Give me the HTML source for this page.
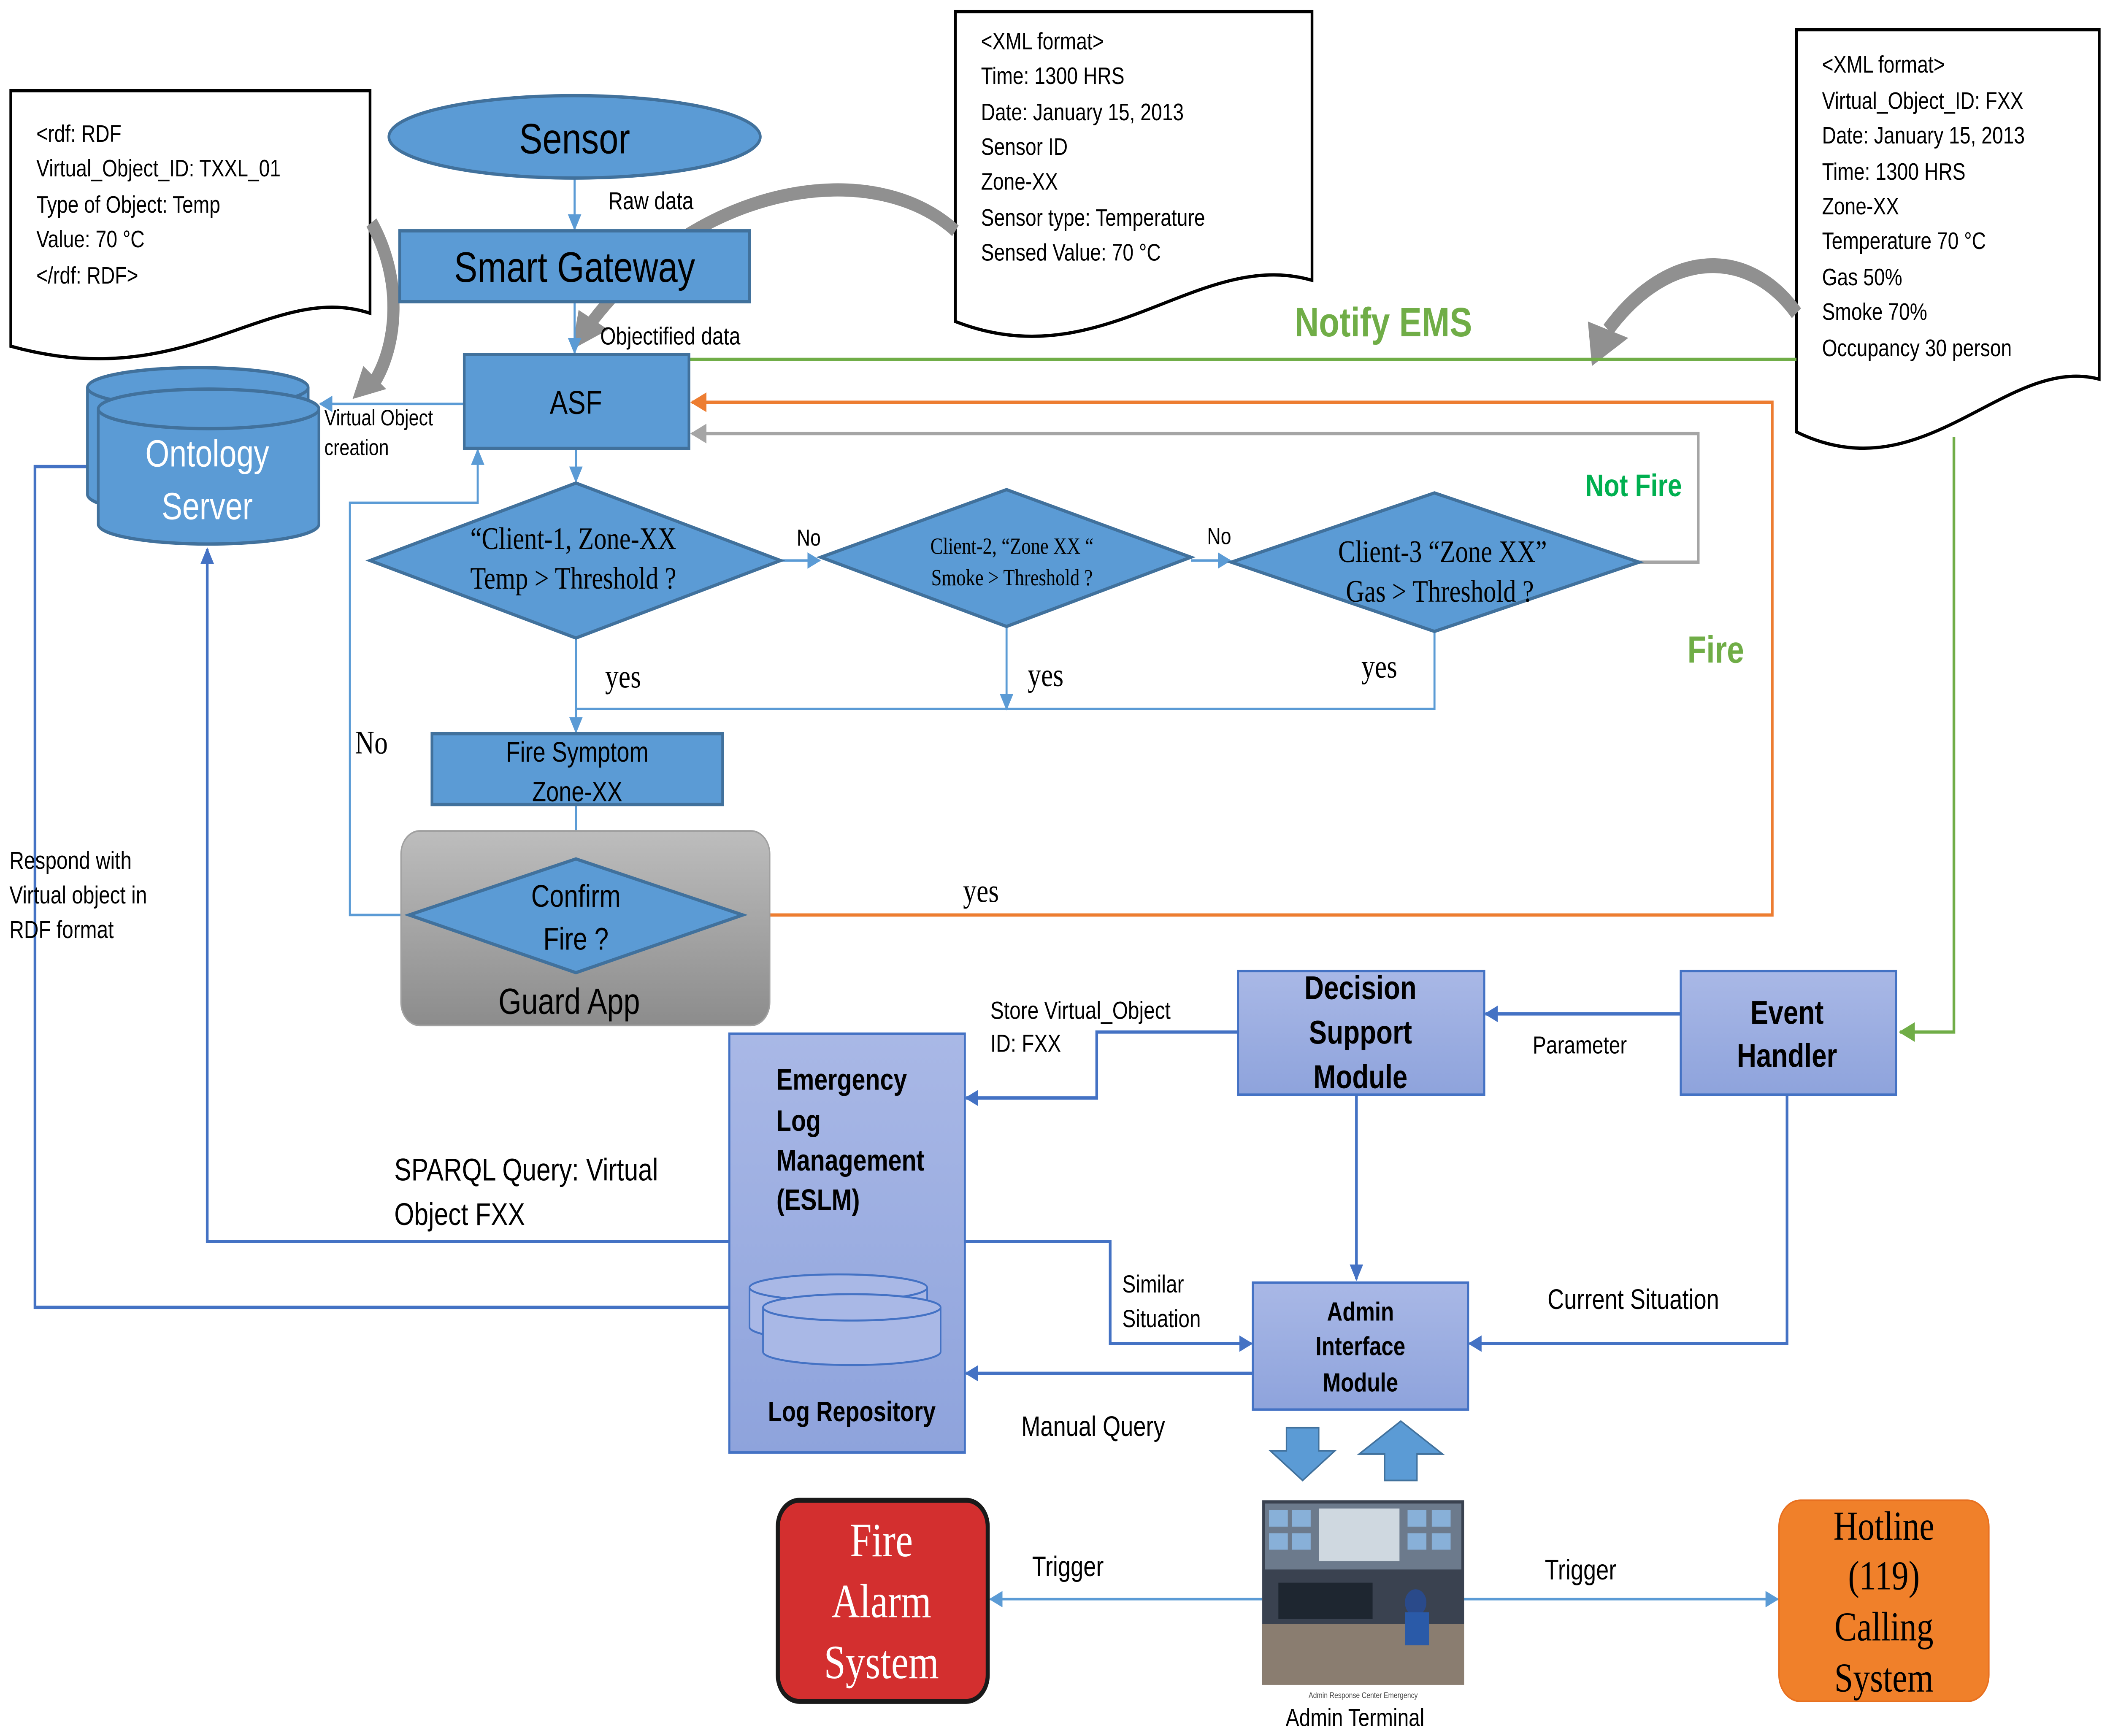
<!DOCTYPE html>
<html><head><meta charset="utf-8"><style>html,body{margin:0;padding:0;background:#fff;width:100%;height:100%;overflow:hidden}svg{display:block;position:fixed;left:0;top:0;width:100vw;height:100vh}</style></head>
<body>
<svg xmlns="http://www.w3.org/2000/svg" viewBox="0 0 1568 1053" preserveAspectRatio="none" font-family="Liberation Sans, sans-serif">
<defs>
<marker id="ab" markerWidth="10" markerHeight="10" refX="9" refY="5" orient="auto" markerUnits="userSpaceOnUse"><path d="M0,0 L10,5 L0,10 z" fill="#4472c4"/></marker>
<marker id="alb" markerWidth="10" markerHeight="10" refX="9" refY="5" orient="auto" markerUnits="userSpaceOnUse"><path d="M0,0 L10,5 L0,10 z" fill="#5b9bd5"/></marker>
<marker id="ao" markerWidth="12" markerHeight="12" refX="11" refY="6" orient="auto" markerUnits="userSpaceOnUse"><path d="M0,0 L12,6 L0,12 z" fill="#ed7d31"/></marker>
<marker id="ag" markerWidth="12" markerHeight="12" refX="11" refY="6" orient="auto" markerUnits="userSpaceOnUse"><path d="M0,0 L12,6 L0,12 z" fill="#a5a5a5"/></marker>
<marker id="agr" markerWidth="12" markerHeight="12" refX="11" refY="6" orient="auto" markerUnits="userSpaceOnUse"><path d="M0,0 L12,6 L0,12 z" fill="#70ad47"/></marker>
<linearGradient id="gg" x1="0" y1="0" x2="0" y2="1"><stop offset="0" stop-color="#bdbdbd"/><stop offset="1" stop-color="#8c8c8c"/></linearGradient>
<linearGradient id="pg" x1="0" y1="0" x2="0" y2="1"><stop offset="0" stop-color="#a9b8e6"/><stop offset="1" stop-color="#8ea3dc"/></linearGradient>
</defs>

<path d="M8,55 H275 V190 C200,170 140,240 8,210 Z" fill="#fff" stroke="#000" stroke-width="2"/>
<g font-size="14.5" fill="#000"><text x="27" y="86">&lt;rdf: RDF</text><text x="27" y="107">Virtual_Object_ID: TXXL_01</text><text x="27" y="129">Type of Object: Temp</text><text x="27" y="150">Value: 70 °C</text><text x="27" y="172">&lt;/rdf: RDF&gt;</text></g>

<path d="M710,7 H975 V170 C890,150 820,230 710,195 Z" fill="#fff" stroke="#000" stroke-width="2"/>
<g font-size="14.5"><text x="729" y="30">&lt;XML format&gt;</text><text x="729" y="51">Time: 1300 HRS</text><text x="729" y="73">Date: January 15, 2013</text><text x="729" y="94">Sensor ID</text><text x="729" y="115">Zone-XX</text><text x="729" y="137">Sensor type: Temperature</text><text x="729" y="158">Sensed Value: 70 °C</text></g>

<path d="M1335,18 H1560 V230 C1490,215 1430,300 1335,262 Z" fill="#fff" stroke="#000" stroke-width="2"/>
<g font-size="14.5"><text x="1354" y="44">&lt;XML format&gt;</text><text x="1354" y="66">Virtual_Object_ID: FXX</text><text x="1354" y="87">Date: January 15, 2013</text><text x="1354" y="109">Time: 1300 HRS</text><text x="1354" y="130">Zone-XX</text><text x="1354" y="151">Temperature 70 °C</text><text x="1354" y="173">Gas 50%</text><text x="1354" y="194">Smoke 70%</text><text x="1354" y="216">Occupancy 30 person</text></g>

<path d="M276,135 C300,170 295,210 278,232" fill="none" stroke="#909090" stroke-width="9"/>
<path d="M262,242 L270,222 L287,236 Z" fill="#909090"/>
<path d="M710,140 C650,95 520,110 440,195" fill="none" stroke="#909090" stroke-width="8"/>
<path d="M425,212 L430,188 L452,200 Z" fill="#909090"/>
<path d="M1335,190 C1300,150 1240,150 1195,200" fill="none" stroke="#909090" stroke-width="9"/>
<path d="M1183,222 L1180,195 L1210,205 Z" fill="#909090"/>

<g fill="none" stroke-width="2">
<path d="M512,218 H1335" stroke="#70ad47"/>
<path d="M552,555 H1317 V244 H514" stroke="#ed7d31" marker-end="url(#ao)"/>
<path d="M1218,341 H1262 V263 H514" stroke="#a5a5a5" marker-end="url(#ag)"/>
<path d="M1452,265 V626 H1412" stroke="#70ad47" marker-end="url(#agr)"/>
<g stroke="#5b9bd5" stroke-width="1.5">
<path d="M427,108 V139" marker-end="url(#alb)"/>
<path d="M427,183 V214" marker-end="url(#alb)"/>
<path d="M428,272 V292" marker-end="url(#alb)"/>
<path d="M580,340 H609" marker-end="url(#alb)"/>
<path d="M885,340 H914" marker-end="url(#alb)"/>
<path d="M428,387 V444" marker-end="url(#alb)"/>
<path d="M748,380 V430" marker-end="url(#alb)"/>
<path d="M428,430 H1066 V383"/>
<path d="M428,488 V520" marker-end="url(#alb)"/>
<path d="M304,555 H260 V305 H355 V273" marker-end="url(#alb)"/>
<path d="M345,245 H238" marker-end="url(#alb)"/>
</g>
<g stroke="#4472c4">
<path d="M65,283 H26 V793 H554" marker-end="url(#ab)"/>
<path d="M542,753 H154 V333" marker-end="url(#ab)"/>
<path d="M920,626 H815 V666 H718" marker-end="url(#ab)"/>
<path d="M1249,615 H1104" marker-end="url(#ab)"/>
<path d="M1008,664 V776" marker-end="url(#ab)"/>
<path d="M1328,664 V815 H1092" marker-end="url(#ab)"/>
<path d="M717,753 H825 V815 H930" marker-end="url(#ab)"/>
<path d="M931,833 H718" marker-end="url(#ab)"/>
</g>
<g stroke="#5b9bd5" stroke-width="1.5">
<path d="M938,970 H736" marker-end="url(#alb)"/>
<path d="M1088,970 H1321" marker-end="url(#alb)"/>
</g>
</g>

<ellipse cx="427" cy="83" rx="138" ry="25" fill="#5b9bd5" stroke="#41719c" stroke-width="2"/>
<text x="427" y="93" font-size="26" text-anchor="middle">Sensor</text>
<rect x="297" y="140" width="260" height="43" fill="#5b9bd5" stroke="#41719c" stroke-width="2"/>
<text x="427" y="171" font-size="26" text-anchor="middle">Smart Gateway</text>
<rect x="345" y="215" width="167" height="57" fill="#5b9bd5" stroke="#41719c" stroke-width="2"/>
<text x="428" y="251" font-size="20" text-anchor="middle">ASF</text>

<g fill="#5b9bd5" stroke="#41719c" stroke-width="2">
<path d="M65,235 V300 A82,12 0 0 0 229,300 V235"/><ellipse cx="147" cy="235" rx="82" ry="12"/>
<path d="M73,248 V318 A82,12 0 0 0 237,318 V248"/><ellipse cx="155" cy="248" rx="82" ry="12"/>
</g>
<text x="154" y="283" font-size="23" fill="#fff" text-anchor="middle">Ontology</text>
<text x="154" y="315" font-size="23" fill="#fff" text-anchor="middle">Server</text>

<g fill="#5b9bd5" stroke="#41719c" stroke-width="2">
<path d="M275,340 L428,293 L580,340 L428,387 Z"/>
<path d="M610,338 L748,297 L885,338 L748,380 Z"/>
<path d="M915,341 L1066,299 L1218,341 L1066,383 Z"/>
</g>
<g font-family="Liberation Serif, serif" text-anchor="middle">
<text x="426" y="333" font-size="19">“Client-1, Zone-XX</text><text x="426" y="357" font-size="19">Temp &gt; Threshold ?</text>
<text x="752" y="336" font-size="14">Client-2, “Zone XX “</text><text x="752" y="355" font-size="14">Smoke &gt; Threshold ?</text>
<text x="1072" y="341" font-size="19">Client-3 “Zone XX”</text><text x="1070" y="365" font-size="19">Gas &gt; Threshold ?</text>
<text x="463" y="417" font-size="20">yes</text><text x="777" y="416" font-size="20">yes</text><text x="1025" y="411" font-size="20">yes</text>
<text x="729" y="547" font-size="20">yes</text><text x="276" y="457" font-size="20">No</text>
</g>
<text x="601" y="331" font-size="14" text-anchor="middle">No</text>
<text x="906" y="330" font-size="14" text-anchor="middle">No</text>

<rect x="321" y="445" width="216" height="43" fill="#5b9bd5" stroke="#41719c" stroke-width="2"/>
<text x="429" y="462" font-size="17" text-anchor="middle">Fire Symptom</text>
<text x="429" y="486" font-size="17" text-anchor="middle">Zone-XX</text>

<rect x="298" y="504" width="274" height="118" rx="14" fill="url(#gg)" stroke="#a0a0a0"/>
<path d="M304,555 L428,521 L552,555 L428,590 Z" fill="#5b9bd5" stroke="#41719c" stroke-width="2"/>
<text x="428" y="550" font-size="19" text-anchor="middle">Confirm</text>
<text x="428" y="576" font-size="19" text-anchor="middle">Fire ?</text>
<text x="423" y="615" font-size="22" text-anchor="middle">Guard App</text>

<text x="1028" y="204" font-size="25" font-weight="bold" fill="#70ad47" text-anchor="middle">Notify EMS</text>
<text x="1214" y="301" font-size="19" font-weight="bold" fill="#00b050" text-anchor="middle">Not Fire</text>
<text x="1275" y="402" font-size="23" font-weight="bold" fill="#70ad47" text-anchor="middle">Fire</text>

<g fill="url(#pg)" stroke="#4472c4" stroke-width="1.5">
<rect x="542" y="627" width="175" height="254"/>
<rect x="920" y="589" width="183" height="75"/>
<rect x="1249" y="589" width="160" height="75"/>
<rect x="931" y="778" width="160" height="77"/>
</g>
<g fill="#a9b8e6" stroke="#4472c4" stroke-width="1.2">
<path d="M557,781 V805 A66,8 0 0 0 689,805 V781"/><ellipse cx="623" cy="781" rx="66" ry="8"/>
<path d="M567,793 V820 A66,8 0 0 0 699,820 V793"/><ellipse cx="633" cy="793" rx="66" ry="8"/>
</g>
<g font-weight="bold" font-size="18">
<text x="577" y="661">Emergency</text><text x="577" y="686">Log</text><text x="577" y="710">Management</text><text x="577" y="734">(ESLM)</text>
<text x="633" y="862" text-anchor="middle" font-size="17">Log Repository</text>
<text x="1011" y="606" text-anchor="middle" font-size="20">Decision</text><text x="1011" y="633" text-anchor="middle" font-size="20">Support</text><text x="1011" y="660" text-anchor="middle" font-size="20">Module</text>
<text x="1328" y="621" text-anchor="middle" font-size="20">Event</text><text x="1328" y="647" text-anchor="middle" font-size="20">Handler</text>
<text x="1011" y="801" text-anchor="middle" font-size="16">Admin</text><text x="1011" y="822" text-anchor="middle" font-size="16">Interface</text><text x="1011" y="844" text-anchor="middle" font-size="16">Module</text>
</g>

<g font-size="15">
<text x="452" y="127">Raw data</text>
<text x="446" y="209">Objectified data</text>
<text x="241" y="258" font-size="13.5">Virtual Object</text><text x="241" y="276" font-size="13.5">creation</text>
<text x="7" y="527">Respond with</text><text x="7" y="548">Virtual object in</text><text x="7" y="569">RDF format</text>
<text x="293" y="716" font-size="19">SPARQL Query: Virtual</text><text x="293" y="743" font-size="19">Object FXX</text>
<text x="736" y="618">Store Virtual_Object</text><text x="736" y="638">ID: FXX</text>
<text x="1139" y="639">Parameter</text>
<text x="834" y="784">Similar</text><text x="834" y="805">Situation</text>
<text x="1150" y="794" font-size="17">Current Situation</text>
<text x="759" y="871" font-size="17">Manual Query</text>
<text x="767" y="956" font-size="17">Trigger</text>
<text x="1148" y="958" font-size="17">Trigger</text>
<text x="1007" y="1047" text-anchor="middle">Admin Terminal</text>
</g>

<path d="M956,866 H980 V880 H992 L968,898 L944,880 H956 Z" fill="#5b9bd5" stroke="#41719c"/>
<path d="M1029,898 H1053 V882 H1072 L1041,862 L1010,882 H1029 Z" fill="#5b9bd5" stroke="#41719c"/>

<rect x="938" y="910" width="150" height="112" fill="#3a4250"/>
<rect x="940" y="912" width="146" height="40" fill="#6c7a8c"/>
<rect x="980" y="915" width="60" height="32" fill="#cfd8e0"/>
<g fill="#88b0d8"><rect x="943" y="916" width="14" height="10"/><rect x="960" y="916" width="14" height="10"/><rect x="943" y="930" width="14" height="10"/><rect x="960" y="930" width="14" height="10"/><rect x="1046" y="916" width="14" height="10"/><rect x="1064" y="916" width="14" height="10"/><rect x="1046" y="930" width="14" height="10"/><rect x="1064" y="930" width="14" height="10"/></g>
<rect x="938" y="985" width="150" height="37" fill="#8a7d70"/>
<rect x="950" y="960" width="70" height="22" fill="#1e2630"/>
<circle cx="1052" cy="972" r="8" fill="#2a4a8a"/>
<rect x="1044" y="978" width="18" height="20" fill="#2a5aa8"/>
<rect x="938" y="1022" width="150" height="10" fill="#fff"/>
<text x="1013" y="1030" font-size="5" text-anchor="middle" fill="#444">Admin Response Center   Emergency</text>

<rect x="578" y="910" width="156" height="122" rx="16" fill="#d32f2f" stroke="#1a1a1a" stroke-width="3"/>
<g font-family="Liberation Serif, serif" text-anchor="middle" font-size="29" fill="#fff">
<text x="655" y="944">Fire</text><text x="655" y="981">Alarm</text><text x="655" y="1018">System</text>
</g>
<rect x="1322" y="910" width="156" height="122" rx="16" fill="#f0802a" stroke="#e87020"/>
<g font-family="Liberation Serif, serif" text-anchor="middle" font-size="25" fill="#000">
<text x="1400" y="934">Hotline</text><text x="1400" y="964">(119)</text><text x="1400" y="995">Calling</text><text x="1400" y="1026">System</text>
</g>
</svg>
</body></html>
